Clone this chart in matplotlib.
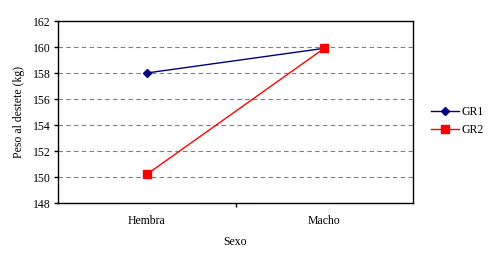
import numpy as np
import matplotlib.pyplot as plt

sexo = ["Hembra", "Macho"]
gr1 = [158.0, 159.9]
gr2 = [150.2, 159.9]

plt.rcParams['font.family'] = ['Liberation Serif', 'DejaVu Serif']

fig = plt.figure(figsize=(4.91, 2.54), dpi=100)
ax = fig.add_axes([58/491, 51/254, 355/491, 182/254])

x = np.arange(len(sexo)) + 0.5
ax.plot(x, gr1, color="#000080", marker="D", markersize=4, lw=1, label="GR1", zorder=3)
ax.plot(x, gr2, color="#ff0000", marker="s", markersize=5.5, lw=1, label="GR2", zorder=3)

ax.set_xlim(0, 2)
ax.set_ylim(148, 162)
ax.set_yticks(np.arange(148, 163, 2))
ax.set_xticks([1])
ax.set_xticklabels([""])
for xi, s in zip(x, sexo):
  ax.text(xi, -0.065, s, transform=ax.get_xaxis_transform(), ha="center", va="top", fontsize=8.5)
ax.tick_params(axis="x", length=3, width=1, direction="out")
ax.tick_params(axis="y", length=3, width=1, direction="out", labelsize=8.5, pad=2)
ax.grid(axis="y", color="#808080", linestyle=(0, (4, 3)), lw=0.8)
ax.set_axisbelow(True)
for s in ax.spines.values():
  s.set_linewidth(1)

ax.set_xlabel("Sexo", fontsize=8.5, labelpad=17)
ax.set_ylabel("Peso al destete (kg)", fontsize=8.5, labelpad=6)

ax.legend(loc="center left", bbox_to_anchor=(1.02, 0.45), frameon=False, fontsize=8.5,
          handlelength=2.4, labelspacing=0.55, handletextpad=0.2)

fig.savefig("out.png")
